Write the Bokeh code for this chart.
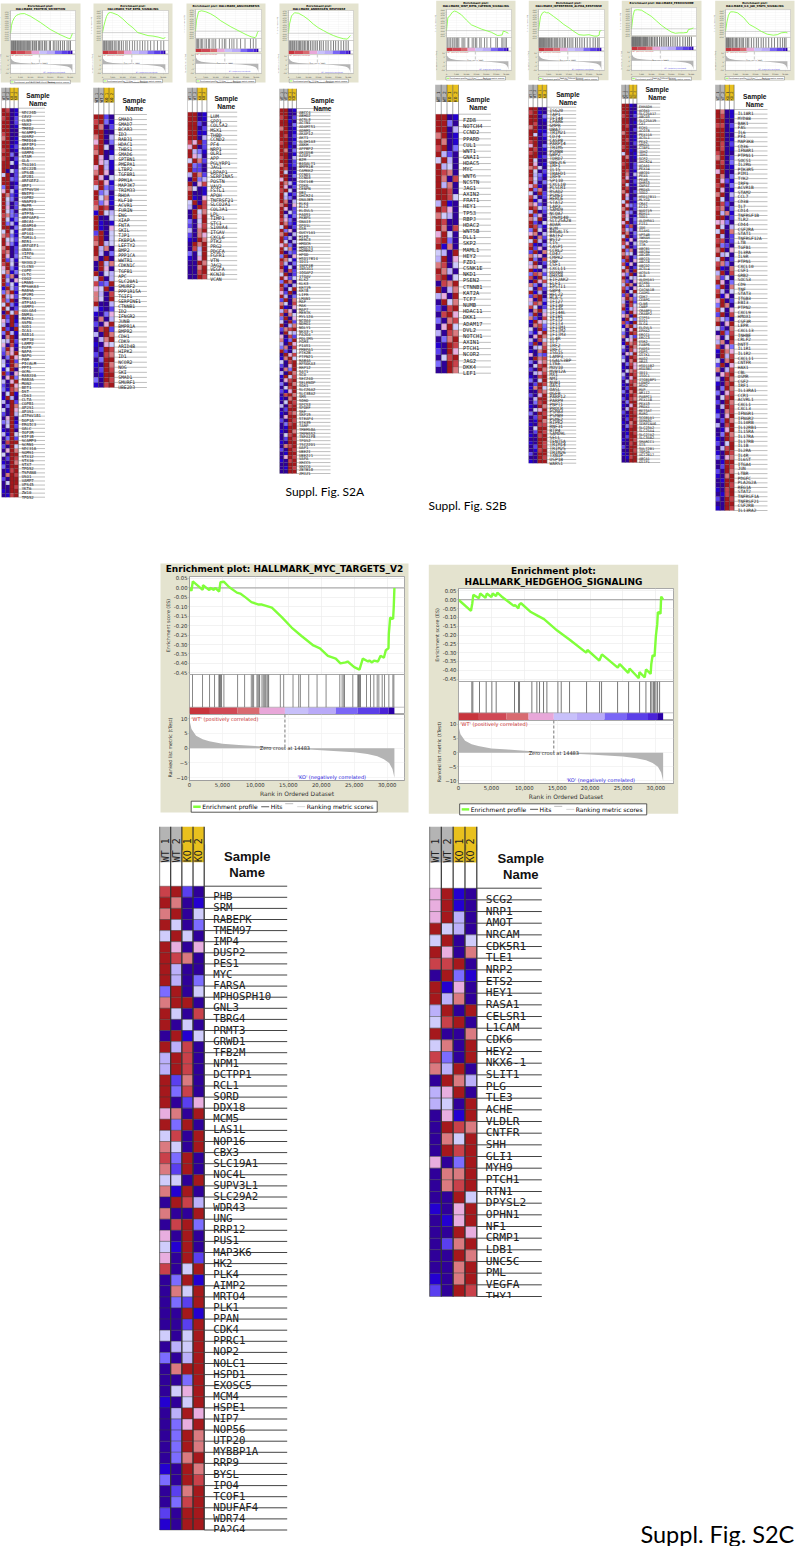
from math import pi, ceil
from bokeh.plotting import figure
from bokeh.models import Range1d, FixedTicker, PrintfTickFormatter, NumeralTickFormatter
from bokeh.core.properties import value
from bokeh.embed import file_html
from bokeh.resources import INLINE

# ---------------------------------------------------------------- data
SAMPLES = ["WT_1", "WT_2", "KO_1", "KO_2"]
LEVELS = ["#2F0099", "#2400D0", "#5A3FEF", "#7C6CFF", "#BBB0FA",
          "#CFCCFB", "#E8AEDF", "#DA7A80", "#C9414A", "#A5181C"]

METRIC_RANK = [0, 50, 300, 1000, 2000, 3000, 5000, 7500, 10000, 12500, 14483, 17500, 20000,
               22500, 25000, 27000, 28500, 29500, 30300, 30800, 31000, 31100]
METRIC_VAL = [10, 9, 6.5, 4.2, 3.0, 2.3, 1.5, 1.1, 0.7, 0.3, 0, -0.4, -0.7,
              -1.0, -1.4, -2.0, -2.7, -3.7, -5.0, -7, -9, -10]
BAR_EDGES = [0, 3100, 7300, 10650, 14480, 18000, 22200, 25500, 28800, 30200, 31100]
BAR_COLORS = ["#C8343C", "#D04855", "#D86A70", "#E8A7D9", "#C8C0FA",
              "#B9AAF8", "#7A66F6", "#5B3FE8", "#4A22D8", "#2A00A8"]

MYC_GENES = """PHB SRM RABEPK TMEM97 IMP4 DUSP2 PES1 MYC FARSA MPHOSPH10 GNL3 TBRG4 PRMT3 GRWD1 TFB2M NPM1
DCTPP1 RCL1 SORD DDX18 MCM5 LAS1L NOP16 CBX3 SLC19A1 NOC4L SUPV3L1 SLC29A2 WDR43 UNG RRP12 PUS1 MAP3K6 HK2
PLK4 AIMP2 MRTO4 PLK1 PPAN CDK4 PPRC1 NOP2 NOLC1 HSPD1 EXOSC5 MCM4 HSPE1 NIP7 NOP56 UTP20 MYBBP1A RRP9 BYSL
IPO4 TCOF1 NDUFAF4 WDR74 PA2G4""".split()
MYC_CODES = """8920 9701 7905 9503 5950 9606 9870 9400 9403 3905 7990 9508 9050 0915 9480 4980
4980 9270 9380 9026 6709 9390 5809 7509 8390 7290 5509 7190 0984 7009 0893 6090 5190 6092
8059 0391 0759 0329 0091 0029 5059 0459 3049 0799 0039 0569 1059 0496 0369 0397 0397 0379 1097
3098 0279 0389 2099 1099""".split()
MYC_ES_X = [0, 300, 500, 2000, 2050, 3000, 3150, 3700, 3900, 4500, 4700, 5200, 6000, 7200, 7700, 8500, 9400, 10500,
            11000, 12500, 14000, 15500, 17000, 18800, 19800, 21000, 22200, 22900, 23700, 24000, 25000, 25800, 26300,
            27100, 27300, 27700, 28000, 28600, 29000, 29500, 29800, 30200, 30250, 30450, 30900, 31000, 31100]
MYC_ES_Y = [0, -0.015, 0.035, -0.01, 0.015, -0.012, 0.0, -0.01, 0.0, -0.02, 0.03, 0.033, 0.005, -0.025, -0.03, -0.05,
            -0.075, -0.088, -0.088, -0.105, -0.155, -0.21, -0.255, -0.305, -0.32, -0.36, -0.375, -0.40, -0.395, -0.39,
            -0.42, -0.433, -0.375, -0.39, -0.385, -0.395, -0.385, -0.39, -0.36, -0.37, -0.33, -0.32, -0.245, -0.157,
            -0.165, -0.1, 0]
MYC_HITS = [456, 1977, 3041, 3801, 4460, 4562, 4663, 4764, 4866, 5220, 7299, 8363, 9377, 9580, 9732, 10238, 10390,
            10542, 10644, 10999, 11202, 11404, 11556, 11759, 11911, 12012, 13786, 14293, 15712, 16574, 16827, 18094,
            19361, 20730, 22808, 23163, 23417, 23518, 24785, 25545, 25646, 25747, 25849, 25950, 26863, 27471, 27978,
            28485, 28738, 29245, 29600, 30258, 30866, 31018]

HH_GENES = """SCG2 NRP1 AMOT NRCAM CDK5R1 TLE1 NRP2 ETS2 HEY1 RASA1 CELSR1 L1CAM CDK6 HEY2 NKX6-1 SLIT1 PLG TLE3 ACHE
VLDLR CNTFR SHH GLI1 MYH9 PTCH1 RTN1 DPYSL2 OPHN1 NF1 CRMP1 LDB1 UNC5C PML VEGFA THY1""".split()
HH_CODES = """6910 6910 6940 9540 5905 9607 8890 0931 9160 9470 4909 5890 9007 5709 8309 7490 0974 4690 4509
0619 0987 0759 0989 6039 0779 0789 0095 1069 0169 0096 0279 0097 0079 1079 2098""".split()
HH_ES_X = [0, 1900, 2100, 2250, 3100, 3300, 4100, 4300, 5000, 5200, 5700, 5900, 6500, 8400, 8600, 9100, 9200, 9500,
           11000, 12000, 13000, 15000, 17000, 19400, 19600, 21400, 21800, 24200, 24500, 25800, 26000, 27400, 27500,
           28300, 28500, 29200, 29300, 29500, 29800, 30000, 30200, 30300, 30700, 30800, 31100]
HH_ES_Y = [0, -0.063, -0.02, 0.028, 0.008, 0.035, 0.01, 0.035, 0.015, 0.035, 0.02, 0.04, 0.02, -0.035, -0.03, -0.05,
           -0.03, -0.02, -0.07, -0.09, -0.11, -0.175, -0.23, -0.30, -0.285, -0.345, -0.31, -0.385, -0.365, -0.415,
           -0.39, -0.445, -0.41, -0.44, -0.395, -0.42, -0.365, -0.315, -0.32, -0.205, -0.14, -0.07, -0.08, 0.018, 0]
HH_HITS = [2027, 2180, 3193, 4207, 5068, 5727, 8515, 9123, 9275, 11151, 11911, 12316, 12924, 13431, 15104, 15611,
           16878, 19463, 21440, 21744, 24177, 25849, 27521, 28485, 29194, 29397, 29650, 29802, 30005, 30258, 30562]

P1_GENES = """SEC24D CAV2 CLN5 SNX2 TMED2 SCAMP1 GOSR2 TMED10 ARFIP1 RAB5A VAMP4 STAM GLA TSG101 SEC22B VPS4B AP2B1 ARFGEF2
ARF1 ATP6V1H BNIP3 COPB2 SNAP23 M6PR ARCN1 ATP7A ARFGAP3 ABCA1 ADAM10 AP3B1 AP1G1 TOM1L1 RER1 ARFGEF1 GNAS YIPF6
CTSC SH3GL2 CLCN3 COPE CLTC COG2 LMAN1 RPS6KA3 RAB9A AP2M1 TMX1 ATP1A1 VAMP3 GOLGA4 DNM1L MAPK1 SSPN SOD1 ICA1
RAB14 KRT18 LAMP2 EGFR NAPA NAPG PAM PICALM PPT1 OCRL RAB22A RAB2A MON2 BET1 DST CD63 CLTA COPB1 AP2S1 AP3S1
ATP6V1B1 DOP1A ERGIC3 GALC IGF2R KIF1B SCAMP3 SCRN1 SEC31A SGMS1 STX12 STX16 STX7 TPD52 TSPAN8 USO1 VAMP7 VPS45
YKT6 ZW10 TPD52""".split()
P1_CODES = """9801 9901 8902 9902 9901 9900 8900 7901 9901 9912 8901 9930 8902 9951 9900 9052 5902 9932 9901 3902
6941 9721 9530 9402 9602 9530 8732 9513 9341 9903 5951 7831 9542 9631 7902 8702 9603 9241 8950 6931
5713 9370 9406 9251 1942 3791 9462 8390 5931 9502 0958 9290 6391 4092 9209 3941 0790 5492 6081 3960
2769 0396 4092 5197 1590 9206 0693 4069 2096 3187 0591 1940 4092 0397 5096 2094 0690 3491 0592 1090
4195 0392 0899 2095 0697 5099 0298 1097 3099 0189 0798 2099 0599 0098 1099 0189""".split()
P1_ES_X = [0, 500, 1000, 2000, 3000, 4000, 5000, 7000, 8000, 10000, 12500, 15000, 17500, 20000, 22500, 25000, 27500, 29000, 30000, 30500, 31100]
P1_ES_Y = [0, .18, .27, .36, .41, .43, .445, .45, .43, .39, .32, .25, .17, .09, .03, -.03, -.08, -.11, -.12, -.07, 0]
P1_HITS = [300, 650, 900, 1300, 1550, 1900, 2300, 2500, 2800, 3300, 3600, 3900, 4300, 4700, 5100, 5400, 5900, 6400,
           6800, 7200, 7700, 8200, 8600, 9100, 9600, 10200, 11000, 11300, 12000, 12700, 13100, 14000, 14600, 15300,
           16000, 17000, 17400, 18200, 19500, 20100, 21500, 22300, 23300, 24200, 25100, 26200, 27100, 28400, 29300, 30100]

P2_GENES = """SMAD3 SMAD7 BCAR3 ID3 RAB31 HDAC1 THBS1 SMAD6 SPTBN1 PMEPA1 LTBP2 TGFBR1 PPM1A MAP3K7 TRIM33 RHOA KLF10 ACVR1
FURIN ENG XIAP FNTA SKIL TJP1 FKBP1A LEFTY2 BMP2 PPP1CA WWTR1 CDKN1C TGFB1 APC SLC20A1 SMURF2 PPP1R15A TGIF1
SERPINE1 CTNNB1 ID2 IFNGR2 JUNB BMPR1A BMPR2 CDH1 CDK9 ARID4B HIPK2 ID1 NCOR2 NOG SKI SMAD1 SMURF1 UBE2D3""".split()
P2_CODES = """9920 8931 9702 9900 7904 6903 8950 7901 9604 9641 6941 7960 9605 8961 5932 9340 9571 8361 7980 1954
9005 9101 9106 2905 8905 7945 9470 9403 7090 0947 0960 9054 5904 8239 6590 7408 7509 9004 4102 1036
0704 2069 0892 4097 0479 1065 0298 2087 0399 1097 0298 0199 3098 1089""".split()
P2_ES_X = [0, 700, 1200, 2000, 3000, 4000, 5000, 7500, 10000, 12500, 15000, 17500, 20000, 22500, 25000, 27500, 30000, 31100]
P2_ES_Y = [0, .14, .22, .33, .40, .41, .40, .36, .28, .18, .10, 0, -.03, -.06, -.07, -.09, -.12, -.10]
P2_HITS = [200, 600, 1000, 1400, 2000, 2300, 2900, 3500, 4000, 4600, 5000, 5800, 6300, 7100, 7900, 8500, 9400, 10300,
           11500, 12200, 13400, 14800, 15900, 17200, 18500, 19800, 21000, 22400, 23800, 25500, 27200, 28900, 30300]

P3_GENES = """LUM SPP1 COL5A2 MSX1 THBD CCND2 PF4 NRP1 OLR1 APP PGLYRP1 JAG1 LRPAP1 SERPINA5 POSTN VAV2 FSTL1 APOH TNFRSF21
SLCO2A1 COL3A1 LPL TIMP1 STC1 S100A4 ITGAV CXCL6 PTK2 PRG2 PDGFA FGFR1 VTN JAG2 VEGFA KCNJ8 VCAN""".split()
P3_CODES = """9901 9901 9920 9902 9911 9904 8692 6902 9431 9640 5972 9320 9220 4972 0934 9068 7501 9001 9106 5908
4098 0957 0969 3059 2068 4079 2076 1097 0979 0849 3059 1069 0097 0079 0089 0098""".split()
P3_ES_X = [0, 500, 1500, 3000, 5000, 7500, 10000, 12500, 15000, 17500, 20000, 22500, 25000, 27500, 29500, 30000, 30700, 31100]
P3_ES_Y = [0, .25, .45, .47, .45, .40, .33, .24, .17, .10, .04, -.02, -.08, -.13, -.15, -.12, -.03, 0]
P3_HITS = [400, 1000, 1500, 2300, 3000, 3600, 4700, 5500, 6500, 7000, 8200, 9100, 10000, 11800, 13200, 14300, 15000,
           16800, 18000, 19000, 20500, 22300, 24500, 27200, 28600, 29900]

P4_GENES = """ABCC4 ABHD2 ACSL3 ACTN1 ADAMTS1 ADRM1 AKAP12 AKT1 ALDH1A3 ANKH APPBP2 ARID5B AZGP1 B2M B4GALT1 BMPR1B CAMKK2
CCND1 CCND3 CDC14B CDK6 CENPN DBI DHCR24 DNAJB9 ELK4 ELL2 ELOVL5 FADS1 FKBP5 GNAI3 GPD1L GSR GUCY1A1 H1F0 HERC3
HMGCR HMGCS1 HOMER2 HPGD HSD17B14 IDI1 INPP4B INSIG1 IQGAP2 ITGAV KLK2 KLK3 KRT19 KRT8 LIFR LMAN1 MAF MAK MAP7
MERTK MYL12A NCOA4 NDRG1 NGLY1 NKX3-1 PA2G4 PDLIM5 PGM3 PIAS1 PMEPA1 PTK2B PTPN21 RAB4A RPS6KA3 RRP12 SAT1 SCD
SEC24D SELENOP SGK1 SLC26A2 SLC38A2 SMS SORD SPCS3 SPDEF SRF SRP19 STEAP4 STK39 TARP TMEM50A TMPRSS2 TNFAIP8
TPD52 TSC22D1 UAP1 UBE2I UBE2J1 VAPA XRCC5 XRCC6 ZBTB10 ZMIZ1""".split()
P4_CODES = """9901 9900 8902 9910 9903 7901 9901 9802 9901 8902 9910 9703 9901 8904 9902 7912 9800 9501 9903 6900
9741 9602 8950 9512 9430 9704 7906 9602 9052 9413 8630 9721 5902 9360 7904 9240 9504 6830 9571 9032
3906 9751 8403 9150 7082 5902 9625 3970 9304 8059 6290 9403 2907 7508 9106 4860 8075 3906 5092 9047
2789 0954 6082 7139 4096 3708 9205 0968 1795 5089 2069 0739 4097 1958 0689 3097 0589 2169 0897 1079
0598 4089 0299 1087 0699 2098 0389 0199 1097 0589 0298 1099 0789 2098 0199 0698 1089 0099 0198 0099""".split()
P4_ES_X = [0, 500, 1500, 3000, 5000, 7500, 10000, 12500, 15000, 17500, 20000, 22500, 25000, 27500, 29500, 30500, 31100]
P4_ES_Y = [0, .20, .38, .45, .44, .38, .30, .20, .12, .06, 0, -.05, -.09, -.12, -.13, -.08, -.05]
P4_HITS = [250, 700, 1100, 1700, 2100, 2700, 3100, 3800, 4200, 4900, 5500, 6100, 6800, 7300, 8000, 8700, 9500, 10100,
           11000, 11900, 12800, 13700, 14500, 15600, 16400, 17500, 18800, 19900, 21300, 22600, 23700, 25000, 26400,
           27700, 28900, 30000]

P5_GENES = """FZD8 NOTCH4 CCND2 PPARD CUL1 WNT1 GNAI1 HDAC5 MYC WNT6 NCSTN JAG1 AXIN2 FRAT1 HEY1 TP53 RBPJ HDAC2 WNT5B DLL1
SKP2 MAML1 HEY2 FZD1 CSNK1E NKD1 PSEN2 CTNNB1 KAT2A TCF7 NUMB HDAC11 DKK1 ADAM17 DVL2 NOTCH1 AXIN1 PTCH1 NCOR2 JAG2
DKK4 LEF1""".split()
P5_CODES = """9901 9930 9904 7901 9701 8903 9420 5940 9450 9870 9708 9470 9980 9985 4910 9860 7540 9800 9708 6950
8930 9170 5409 4906 7805 9740 8905 0879 9047 4609 0957 2089 0896 3078 0695 4087 0379 1098 2096 0589
3098 0097""".split()
P5_ES_X = [0, 700, 1500, 2000, 3000, 4000, 5000, 7500, 10000, 12500, 15000, 17500, 20000, 22500, 25500, 26500, 28000, 28500, 29500, 31100]
P5_ES_Y = [0, .25, .27, .30, .35, .37, .36, .30, .20, .11, .07, .03, 0, -.03, -.09, -.09, -.08, -.01, -.02, -.05]
P5_HITS = [300, 800, 1700, 2200, 3100, 3800, 4300, 5100, 5600, 6200, 7800, 8400, 9200, 10800, 11200, 12900, 13700,
           14600, 15200, 16700, 17400, 19100, 20300, 22200, 24800, 25600, 27800, 28400, 29400, 30100]

P6_GENES = """ISG20 TAP1 IFI44 LPAR6 GMPR UBA7 TRIM21 CD74 CASP8 PARP14 TRIM5 PSMB8 GBP2 TDRD7 UBE2L6 IRF1 IL15 TRAFD1 IRF9 SP110
CXCL10 PLSCR1 RSAD2 PSME1 HERC6 STAT2 LAP3 SAMD9 NCOA7 TMEM140 SLC25A28 ADAR B2M B4GALT5 BATF2 BST2 C1S CASP1 CCRL2
CD47 CMPK2 CNP CSF1 CXCL11 DDX60 DHX58 EIF2AK2 ELF1 EPSTI1 GBP4 HELZ2 HLA-C IFI27 IFI30 IFI35 IFI44L IFIH1 IFIT2
IFIT3 IFITM1 IFITM2 IFITM3 IL4R IL7 IRF2 IRF7 ISG15 LAMP3 LGALS3BP LY6E MOV10 MVB12A MX1 NMI NUB1 OAS1 OASL OGFR
PARP12 PARP9 PNPT1 PROCR PSMA3 PSMB9 PSME2 RIPK2 RNF31 RTP4 SAMD9L SELL TENT5A TRIM14 TRIM25 TRIM26 TXNIP USP18 WARS1""".split()
P6_CODES = """9900 8910 9903 9901 9800 7900 9911 9502 9901 8900 6903 9801 8900 9912 9500 9601 7850 9502 9431 8520
9403 6810 9370 5092 8402 9140 7620 9853 4902 9360 7490 9205 9831 3950 6704 9072 5940 8103 9260 2907
7460 9308 4902 6750 9104 3872 8095 0968 7304 5082 9140 2890 6093 4871 8502 0794 3906 7208 1965 0783
5092 3169 0697 4085 2907 0458 1079 6032 0978 3067 0589 2097 0468 1089 3059 0298 1795 0087 2069 0499
0389 1097 0569 3098 0289 0197 1088 0599 0298 1089 0099 1098 0298 0189 2099 0098 1099""".split()
P6_ES_X = [0, 1000, 2000, 3000, 4000, 5000, 7500, 10000, 12500, 15000, 17500, 20000, 22500, 25000, 27500, 29000, 30000, 30200, 31100]
P6_ES_Y = [0, .30, .38, .40, .38, .38, .30, .22, .13, .06, -.02, -.09, -.10, -.09, -.12, -.12, -.10, -.02, 0]
P6_HITS = [150, 450, 800, 1100, 1400, 1800, 2100, 2500, 2900, 3300, 3700, 4100, 4600, 5000, 5500, 6100, 6500, 7100,
           7800, 8300, 9000, 9500, 10300, 11100, 12000, 12800, 13300, 14300, 15200, 16100, 17000, 18300, 19200,
           20400, 21500, 22700, 24100, 25500, 27000, 28100, 29300, 30000]

P7_GENES = """EHHADH ACOX1 SLC25A17 ABCD3 SLC25A19 CAT ECH1 ACOT8 PEX11A ACSL1 PEX2 HMGCL CTBP1 IDH2 IDH1 SCP2 DHCR24 ACAA1
PEX14 ABCD1 PEX5 PEX6 DHRS3 GNPAT PRDX5 SOD2 HSD17B11 MLYCD CRAT ECI2 NUDT19 RDH11 SOD1 ALDH9A1 FIS1 IDE SIAH1 VPS4B
YWHAH TSPO TTR ABCB1 ABCB4 ABCB9 ABCC5 ABCC8 ABCD2 ACSL4 ACSL5 ALB ALDH1A1 ATXN1 BCL10 CACNA1B CADM1 CDK7 CEBPG CLN6
CNBP CRABP1 CRABP2 CTPS1 DIO1 DLG4 ELOVL5 EPHX2 ERCC1 ERCC3 ESR2 FABP6 FADS1 FDPS GSTK1 HAO2 HRAS HSD11B2 HSD3B7
IDI1 ISOC1 ITGB1BP1 LONP2 MSH2 MVP NR1I2 PABPC1 PEX11B PEX13 PRDX1 RETSAT RXRG SCGB1A1 SEMA3C SERPINA6 SLC23A2
SLC25A4 SLC27A2 SLC35B2 SMARCC1 STS SULT2B1 TOP2A UGT2B17 ABCA1 GSTP1""".split()
P7_CODES = """9910 9900 9901 8902 9900 9901 9800 9902 7900 9901 9801 9902 8900 9910 5901 9701 9900 8902 9902 9801
9704 9601 8902 9501 9800 7902 9600 9402 5901 9632 7902 9430 8601 9503 6902 9280 8430 9703 5902 9160
8604 4902 9370 7450 9803 3906 8160 5902 9709 6390 9054 7206 4970 8306 9059 2804 6973 4092 7085 9146
3096 6709 0953 8209 1794 5069 3098 7042 0569 1978 4097 2086 0649 3098 5079 0386 1096 0578 4098 2069
0588 1097 0299 3079 0198 2087 0399 1069 0498 2098 0199 0298 1079 0389 1099 0198 0299 1098 0089 2099
0098 1099 0189 0099""".split()
P7_ES_X = [0, 800, 1500, 3000, 5000, 7500, 10000, 12500, 15000, 17500, 20000, 22000, 24000, 26000, 28000, 28500, 30000, 31100]
P7_ES_Y = [0, .30, .42, .43, .42, .35, .28, .18, .08, 0, -.07, -.10, -.09, -.09, -.08, -.02, 0, .02]
P7_HITS = [100, 350, 600, 850, 1100, 1350, 1700, 1950, 2200, 2600, 2900, 3200, 3600, 4000, 4400, 4700, 5200, 5700,
           6100, 6600, 7000, 7600, 8100, 8800, 9300, 10000, 10700, 11500, 12300, 13000, 14100, 15000, 15900, 16800,
           17700, 18600, 19700, 20800, 21900, 23000, 24300, 25800, 27000, 28200, 29100, 30100]

P8_GENES = """IL18R1 MYD88 BAK1 FAS IL6 PF4 MAP3K8 CD36 IFNAR1 PTPN11 SOCS1 IL2RG PIK3R5 PIM1 TYK2 IRF9 ACVR1B STAM2 CCL7 CD38
IL7 CD14 TNFRSF1B TLR2 CD44 CSF2RA STAT1 TNFRSF12A LTB TGFB1 IL3RA IL9R PTPN1 CXCL10 CSF1 GRB2 SOCS3 CD9 TNF STAT3
ITGB3 EBI3 PTPN2 CXCL9 HMOX1 CSF3R LEPR CXCL13 INHBE CRLF2 DNTT IL1R1 IL1R2 CXCL11 CNTFR HAX1 CBL OSMR CSF2 IRF1
IL13RA1 CCR1 ACVRL1 CXCL1 CXCL3 IFNGR1 IFNGR2 IL10RB IL12RB1 IL15RA IL17RA IL17RB IL1B IL2RA IL4R IL6ST ITGA4 JUN
LTBR PDGFC PLA2G2A REG1A STAT2 TNFRSF1A TNFRSF21 CSF2RB IL13RA2""".split()
P8_CODES = """9701 9801 9900 8802 9901 9900 9901 9802 9801 8900 7902 9803 9901 6900 9703 9621 8903 9601 7904 9502
9820 8703 9471 9902 6630 9504 5907 9402 8802 9320 7906 9450 5902 8730 9107 4908 7250 9603 3907 8405
9160 6902 3970 8506 2908 7430 9069 5207 0938 6059 4708 8063 1976 0948 5079 2906 7048 0689 4097 1089
0397 3068 0589 2097 0498 1078 3069 0297 4089 0169 0397 1098 2059 0489 1098 3067 0199 0298 2097 1079
0199 0098 1089 0189 2098 0099 1098""".split()
P8_ES_X = [0, 700, 1500, 2500, 4000, 6000, 9000, 12000, 15000, 18000, 21000, 24000, 26000, 28000, 30000, 31100]
P8_ES_Y = [0, .20, .35, .42, .42, .40, .30, .15, .08, 0, -.06, -.08, -.07, -.03, -.02, -.03]
P8_HITS = [200, 550, 900, 1250, 1500, 1900, 2400, 2800, 3400, 3700, 4300, 5100, 5500, 6200, 7000, 7800, 8400, 9100,
           10200, 11000, 11700, 13000, 14200, 15500, 16500, 17900, 19000, 20300, 21700, 23200, 24600, 26200, 27500,
           28700, 29700, 30400]

# ---------------------------------------------------------------- layout / helpers
ES_GREEN = "#80FF3A"
KHAKI = "#E4E3CF"
AX_FONT = "DejaVu Sans"
MONO = "DejaVu Sans Mono"
SANS_BOLD = "Liberation Sans"
NO_BORDER = dict(min_border=0, min_border_left=0, min_border_right=0, min_border_top=0, min_border_bottom=0)


def place(fig, left, top):
    fig.styles = {"position": "absolute", "left": f"{left:.2f}px", "top": f"{top:.2f}px"}
    return fig


base = figure(width=796, height=1546, x_range=Range1d(0, 796), y_range=Range1d(1546, 0), tools="",
              output_backend="svg", toolbar_location=None, outline_line_color=None, **NO_BORDER)
base.axis.visible = False
base.grid.visible = False
place(base, 0, 0)
figs = [base]


def btext(x, y, txt, size, font=AX_FONT, style="normal", align="left", baseline="middle", color="#000000"):
    base.text([x], [y], text=[txt], text_font=value(font), text_font_size=f"{size:.2f}px",
              text_font_style=style, text_align=align, text_baseline=baseline, text_color=color)


def gsea(bx0, bx1, by0, by1, title_lines, title_ys, title_size, px0, px1, y0, y1, y_bar, y2, y3,
         es_lim, xmax, es_x, es_y, hits, hit_w):
    s = (bx1 - bx0) / 248.0
    base.quad(left=[bx0], right=[bx1], top=[by0], bottom=[by1], fill_color=KHAKI, line_color=None)
    cx = (bx0 + bx1) / 2
    for t, ty in zip(title_lines, title_ys):
        btext(cx, ty, t, title_size, style="bold", align="center")
    # legend
    lx0, lx1, ly0, ly1 = bx0 + 30.7 * s, bx0 + 216.7 * s, by0 + 237.7 * s, by0 + 248.7 * s
    lw = 0.8 if s > .5 else 0.3
    base.quad(left=[lx0], right=[lx1], top=[ly0], bottom=[ly1], fill_color="#FFFFFF", line_color="#333333", line_width=lw)
    ym = (ly0 + ly1) / 2
    fs = 6.0 * s
    base.segment(x0=[lx0 + 2 * s], x1=[lx0 + 9.5 * s], y0=[ym], y1=[ym], line_color=ES_GREEN, line_width=2.2 * s + .2)
    btext(lx0 + 11 * s, ym, "Enrichment profile", fs)
    base.segment(x0=[lx0 + 70 * s], x1=[lx0 + 78 * s], y0=[ym], y1=[ym], line_color="#777777", line_width=1.2 * s)
    btext(lx0 + 79.5 * s, ym, "Hits", fs)
    base.segment(x0=[lx0 + 94 * s], x1=[lx0 + 102 * s], y0=[ym - 3 * s], y1=[ym - 3 * s], line_color="#AAAAAA", line_width=.8 * s)
    base.segment(x0=[lx0 + 106 * s], x1=[lx0 + 114 * s], y0=[ym], y1=[ym], line_color="#CCCCCC", line_width=.8 * s)
    btext(lx0 + 115.5 * s, ym, "Ranking metric scores", fs)

    L = max(14, round(42 * s)); R = max(6, round(10 * s))
    w = round(px1 - px0)
    tick_out = 1
    lab = f"{5.3 * s:.2f}px"
    axlab = f"{6.0 * s:.2f}px"
    ylab = f"{4.8 * s:.2f}px"
    line_w = max(.4, s)
    pad = max(4, round(10 * s))

    def mk(top_px, bot_px, ylim, T=2, B=1):
        h = round(bot_px - top_px)
        p = figure(width=L + w + R, height=T + h + B, x_range=Range1d(0, xmax), y_range=Range1d(*ylim), tools="",
                   output_backend="svg", toolbar_location=None, min_border_left=L, min_border_right=R,
                   min_border_top=T, min_border_bottom=B, border_fill_color=None, background_fill_color="#FFFFFF",
                   outline_line_color="#A8A8A8", outline_line_width=line_w)
        place(p, px0 - L, top_px - T)
        figs.append(p)
        return p

    def style(ax, lsize):
        ax.major_label_text_font_size = lab
        ax.major_label_text_font = AX_FONT
        ax.major_label_text_color = "#333333"
        ax.axis_label_text_font_size = lsize
        ax.axis_label_text_font = AX_FONT
        ax.axis_label_text_font_style = "normal"
        ax.axis_label_text_color = "#333333"
        ax.axis_line_color = "#999999"
        ax.axis_line_width = line_w * .7
        ax.major_tick_line_color = "#999999"
        ax.major_tick_line_width = line_w * .7
        ax.major_tick_out = tick_out
        ax.major_tick_in = 0
        ax.minor_tick_line_color = None
        ax.major_label_standoff = 1
        ax.axis_label_standoff = 0

    xticks = FixedTicker(ticks=[0, 5000, 10000, 15000, 20000, 25000, 30000])
    # enrichment-score panel
    a = mk(y0, y1, es_lim, T=pad, B=pad)
    a.xaxis.visible = False
    yt = [round(-0.45 + .05 * i, 2) for i in range(0, 21)]
    yt = [v for v in yt if es_lim[0] <= v <= es_lim[1]]
    a.yaxis.ticker = FixedTicker(ticks=yt)
    a.yaxis.formatter = PrintfTickFormatter(format="%.2f")
    a.yaxis.axis_label = "Enrichment score (ES)"
    style(a.yaxis[0], ylab)
    a.xgrid.ticker = xticks
    a.grid.grid_line_color = "#ECECEC"
    a.grid.grid_line_width = line_w * .7
    a.segment(x0=[0], x1=[xmax], y0=[0], y1=[0], line_color="#9A9A9A", line_width=line_w)
    a.line(es_x, es_y, line_color=ES_GREEN, line_width=2.3 * s + .1)

    # hits + colour bar panel
    frac = (y2 - y_bar) / (y2 - y1)
    b = mk(y1, y2, (0, 1), T=0, B=0)
    b.axis.visible = False
    b.grid.visible = False
    b.quad(left=BAR_EDGES[:-1], right=BAR_EDGES[1:], bottom=0, top=frac, fill_color=BAR_COLORS, line_color=None)
    b.segment(x0=[0], x1=[xmax], y0=[frac], y1=[frac], line_color="#A8A8A8", line_width=line_w * .7)
    b.segment(x0=hits, x1=hits, y0=frac, y1=1, line_color="#555555" if s > .5 else "#707070", line_width=hit_w)

    # ranked-metric panel
    c = mk(y2, y3, (-10.9, 11.35), T=pad, B=max(12, round(42 * s)))
    c.yaxis.ticker = FixedTicker(ticks=[-10, -5, 0, 5, 10])
    c.xaxis.ticker = xticks
    c.xaxis.formatter = NumeralTickFormatter(format="0,0")
    c.yaxis.axis_label = "Ranked list metric (tTest)"
    c.xaxis.axis_label = "Rank in Ordered Dataset"
    style(c.yaxis[0], ylab); style(c.xaxis[0], axlab)
    c.xgrid.ticker = xticks
    c.grid.grid_line_color = "#F0F0F0"
    c.grid.grid_line_width = line_w * .7
    c.varea(METRIC_RANK, [0] * len(METRIC_RANK), METRIC_VAL, fill_color="#B4B4B4")
    c.segment(x0=[14483], x1=[14483], y0=[11.35], y1=[0], line_color="#555555", line_width=line_w * .8, line_dash="3 2")
    fsz = f"{5.0 * s:.2f}px"
    c.text([14483], [0], text=["Zero cross at 14483"], text_font=value(AX_FONT), text_font_size=fsz,
           text_align="center", text_baseline="middle", text_color="#222222")
    c.text([250], [10], text=["'WT' (positively correlated)"], text_font=value(AX_FONT), text_font_size=fsz,
           text_align="left", text_baseline="middle", text_color="#C82828")
    c.text([16400], [-9.7], text=["'KO' (negatively correlated)"], text_font=value(AX_FONT), text_font_size=fsz,
           text_align="left", text_baseline="middle", text_color="#2A1AE0")


def heat(genes, codes, x0, x1, y_head, y_color, y_row, y_bot, label_x, line_x, font, name_cx, name_ys, name_size, head_size):
    n = min(len(genes), len(codes))
    colw = (x1 - x0) / 4
    rowh = (y_bot - y_row) / n
    W = ceil(max(line_x, name_cx + name_size * 2.2) - x0) + 2
    H = ceil(y_bot - y_head) + 2
    top_val = -(y_row - y_head) / rowh
    p = figure(width=W, height=H, x_range=Range1d(0, W / colw), y_range=Range1d(top_val + H / rowh, top_val), tools="",
               output_backend="svg", toolbar_location=None, outline_line_color=None,
               border_fill_color=None, background_fill_color=None, **NO_BORDER)
    p.axis.visible = False
    p.grid.visible = False
    place(p, x0, y_head)
    figs.append(p)
    large = rowh > 8
    lw = 1.0 if large else .45
    # header cells
    col_bot = -(y_row - y_color) / rowh
    p.quad(left=[0, 1, 2, 3], right=[1, 2, 3, 4], top=top_val, bottom=col_bot,
           fill_color=["#B4B4B4", "#B4B4B4", "#E8C01E", "#E8C01E"], line_color=None)
    p.text([.5, 1.5, 2.5, 3.5], [col_bot] * 4, text=SAMPLES, angle=pi / 2, text_font=value(MONO),
           text_font_size=f"{head_size}px", text_align="left", text_baseline="middle", text_color="#222222")
    # cells
    lefts, rights, tops, bots, cols = [], [], [], [], []
    for i, code in enumerate(codes[:n]):
        for j, ch in enumerate(code):
            lefts.append(j); rights.append(j + 1); tops.append(i); bots.append(i + 1); cols.append(LEVELS[int(ch)])
    p.quad(left=lefts, right=rights, top=tops, bottom=bots, fill_color=cols, line_color="#3A3A3A", line_width=.4 if large else .12)
    # separators
    p.segment(x0=[0, 1, 2, 3, 4], x1=[0, 1, 2, 3, 4], y0=top_val, y1=n, line_color="#333333", line_width=1.2 if large else lw)
    # gene labels and their rules
    xl = (label_x - x0) / colw
    xe = (line_x - x0) / colw
    p.segment(x0=4, x1=xe, y0=list(range(0, n + 1)), y1=list(range(0, n + 1)),
              line_color="#444444" if large else "#707070", line_width=lw)
    p.text([xl] * n, [i + .96 for i in range(n)], text=genes[:n], text_font=value(MONO), text_font_size=f"{font}px",
           text_align="left", text_baseline="alphabetic", text_color="#222222")
    # sample-name caption
    xc = (name_cx - x0) / colw
    for word, ny in zip(["Sample", "Name"], name_ys):
        p.text([xc], [-(y_row - ny) / rowh], text=[word], text_font=value(SANS_BOLD), text_font_style="bold",
               text_font_size=f"{name_size}px", text_align="center", text_baseline="middle", text_color="#111111")


# small enrichment plots
XM = 32650
gsea(0, 80, 3, 82, ["Enrichment plot:", "HALLMARK_PROTEIN_SECRETION"], [4.7, 8], 2.7, 10, 74.7, 10, 40, 50, 54, 72.7, (-.16, .52), XM, P1_ES_X, P1_ES_Y, P1_HITS, .9)
gsea(93, 172, 3, 82, ["Enrichment plot:", "HALLMARK_TGF_BETA_SIGNALING"], [4.7, 8], 2.7, 102, 167.7, 10, 40, 50, 54, 72.7, (-.16, .45), XM, P2_ES_X, P2_ES_Y, P2_HITS, .8)
gsea(186, 265, 3, 82, ["Enrichment plot: HALLMARK_ANGIOGENESIS"], [4.7], 2.7, 194.7, 260.7, 9, 38, 48.5, 52.5, 72.7, (-.17, .5), XM, P3_ES_X, P3_ES_Y, P3_HITS, .8)
gsea(279, 358, 3, 82, ["Enrichment plot:", "HALLMARK_ANDROGEN_RESPONSE"], [4.7, 8], 2.7, 288, 353, 10, 40, 50, 54, 72.7, (-.16, .5), XM, P4_ES_X, P4_ES_Y, P4_HITS, .9)
gsea(435.7, 515, 0, 79.7, ["Enrichment plot:", "HALLMARK_WNT_BETA_CATENIN_SIGNALING"], [2, 5.3], 2.7, 445.7, 510.7, 9, 37, 47, 50.7, 69.3, (-.13, .4), XM, P5_ES_X, P5_ES_Y, P5_HITS, .8)
gsea(528.3, 608, 0, 79.7, ["Enrichment plot:", "HALLMARK_INTERFERON_ALPHA_RESPONSE"], [2, 5.3], 2.7, 538.3, 604, 9, 37, 47, 50.7, 69.3, (-.15, .45), XM, P6_ES_X, P6_ES_Y, P6_HITS, .9)
gsea(621.3, 701, 0, 79.7, ["Enrichment plot: HALLMARK_PEROXISOME"], [2], 2.7, 631.3, 696.7, 7, 35.5, 45.5, 49.5, 69.3, (-.15, .48), XM, P7_ES_X, P7_ES_Y, P7_HITS, 1.0)
gsea(714.7, 794, 0, 79.7, ["Enrichment plot:", "HALLMARK_IL6_JAK_STAT3_SIGNALING"], [2, 5.3], 2.7, 724.7, 789.3, 9, 37, 47, 50.7, 69.3, (-.13, .47), XM, P8_ES_X, P8_ES_Y, P8_HITS, .9)

# large enrichment plots
gsea(160, 408, 563, 812, ["Enrichment plot: HALLMARK_MYC_TARGETS_V2"], [568], 9.0, 189.3, 404, 575.7, 674, 706.7, 714, 780, (-.459, .0606), 32630, MYC_ES_X, MYC_ES_Y, MYC_HITS, .7)
gsea(428.3, 677.7, 564.3, 813.3, ["Enrichment plot:", "HALLMARK_HEDGEHOG_SIGNALING"], [570.7, 581], 9.0, 458.3, 673.3, 588.3, 681, 712.3, 720, 782.7, (-.4635, .0635), 32675, HH_ES_X, HH_ES_Y, HH_HITS, .8)

# heat maps
heat(P1_GENES, P1_CODES, .5, 17.3, 87.3, 100, 108, 497, 20.7, 44, 4.0, 37, [95, 103], 6.6, 3.6)
heat(P2_GENES, P2_CODES, 93.3, 114, 87, 102, 114, 387, 118, 146.7, 4.7, 134, [100, 108], 6.6, 4)
heat(P3_GENES, P3_CODES, 187.3, 206.7, 87.3, 100, 112, 279, 210, 237, 4.8, 226, [98, 106], 6.6, 3.6)
heat(P4_GENES, P4_CODES, 279, 296, 88, 100, 108, 473, 298.5, 330, 3.9, 322, [100, 108], 6.6, 3.6)
heat(P5_GENES, P5_CODES, 435.3, 458.3, 84.3, 101.7, 114, 373, 462.7, 490.7, 5.4, 478, [99, 107], 6.6, 4.4)
heat(P6_GENES, P6_CODES, 528.3, 546.7, 84.3, 98, 107, 463, 549.3, 576, 4.5, 567.7, [94, 102], 6.6, 3.6)
heat(P7_GENES, P7_CODES, 621.3, 636.7, 84, 98, 103.3, 462, 638.7, 660, 3.6, 657, [89, 97], 6.6, 3.2)
heat(P8_GENES, P8_CODES, 714.7, 733.3, 84, 100, 109, 510, 737, 766.7, 4.4, 754, [96, 104], 6.6, 3.8)
heat(MYC_GENES, MYC_CODES, 159.3, 204, 826, 861.7, 885.7, 1529.5, 213, 287, 10.7, 247, [856, 872], 13.1, 10)
heat(HH_GENES, HH_CODES, 428.7, 476, 826, 862, 887.7, 1296, 485, 541, 11.2, 520, [858, 874], 13.1, 10)

# captions
btext(285, 491, "Suppl. Fig. S2A", 12, font="Lato")
btext(428, 505, "Suppl. Fig. S2B", 12, font="Lato")
btext(640, 1533, "Suppl. Fig. S2C", 23.5, font="Lato")

open("out.html", "w").write(file_html(figs, INLINE))
